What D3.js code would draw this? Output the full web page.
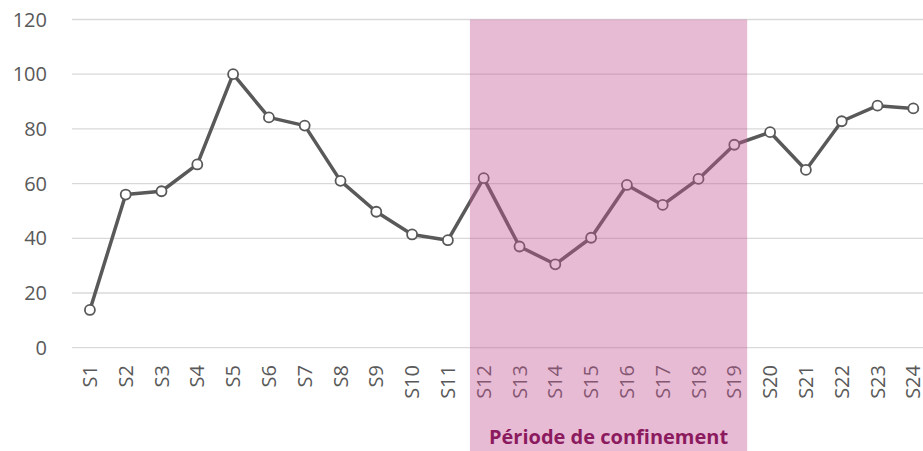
<!DOCTYPE html>
<meta charset="utf-8">
<script src="https://d3js.org/d3.v7.min.js"></script>
<style>
  body { margin: 0; background: #fff; }
  text { font-family: "Open Sans", "Segoe UI", sans-serif; }
</style>
<body>
<div id="graph"></div>
<script>
  // data
  var weeks = ["S1", "S2", "S3", "S4", "S5", "S6", "S7", "S8", "S9", "S10", "S11", "S12",
    "S13", "S14", "S15", "S16", "S17", "S18", "S19", "S20", "S21", "S22", "S23", "S24"];
  var values = [13.8, 56, 57.2, 67, 100, 84.2, 81.2, 61, 49.7, 41.4, 39.3, 62,
    37, 30.5, 40.2, 59.5, 52.2, 61.7, 74.2, 78.8, 65, 82.8, 88.5, 87.5];
  var yTicks = [0, 20, 40, 60, 80, 100, 120];
  var confinement = ["S12", "S19"];
  var confinementLabel = "Période de confinement";

  var width = 923, height = 451;

  var svg = d3.select("#graph")
    .append("svg")
    .attr("width", width)
    .attr("height", height);

  var x = d3.scaleBand().domain(weeks).range([72, 72 + 35.8 * 24]);
  var y = d3.scaleLinear().domain([0, 120]).range([347.7, 19.5]);

  // gridlines
  svg.append("g")
    .selectAll("line")
    .data(yTicks)
    .enter().append("line")
    .attr("x1", 72)
    .attr("x2", width)
    .attr("y1", function (d) { return y(d); })
    .attr("y2", function (d) { return y(d); })
    .attr("stroke", "#d9d9d9")
    .attr("stroke-width", 1.3);

  // y axis labels
  svg.append("g")
    .selectAll("text")
    .data(yTicks)
    .enter().append("text")
    .attr("x", 47)
    .attr("y", function (d) { return y(d); })
    .attr("dy", "0.35em")
    .attr("text-anchor", "end")
    .attr("fill", "#595959")
    .style("font-size", "20px")
    .text(function (d) { return d; });

  // x axis labels, rotated (S24 runs off the right edge like the original)
  svg.append("g")
    .selectAll("text")
    .data(weeks)
    .enter().append("text")
    .attr("transform", function (d) {
      return "translate(" + (x(d) + x.bandwidth() / 2) + ",365) rotate(-90)";
    })
    .attr("dy", "0.35em")
    .attr("text-anchor", "end")
    .attr("fill", "#595959")
    .style("font-size", "20px")
    .text(function (d) { return d; });

  var cx = function (d, i) { return x(weeks[i]) + x.bandwidth() / 2; };

  // the line
  svg.append("path")
    .datum(values)
    .attr("fill", "none")
    .attr("stroke", "#595959")
    .attr("stroke-width", 3.5)
    .attr("stroke-linejoin", "round")
    .attr("d", d3.line()
      .x(cx)
      .y(function (d) { return y(d); }));

  svg.append("g")
    .selectAll("circle")
    .data(values)
    .enter().append("circle")
    .attr("cx", cx)
    .attr("cy", function (d) { return y(d); })
    .attr("r", 5)
    .attr("fill", "#fff")
    .attr("stroke", "#595959")
    .attr("stroke-width", 1.8);

  // confinement shading on top
  var step = x.step();
  var x0 = x(confinement[0]) + x.bandwidth() / 2 - 0.385 * step;
  var x1 = x(confinement[1]) + x.bandwidth() / 2 + 0.36 * step;
  svg.append("rect")
    .attr("x", x0)
    .attr("y", y(120))
    .attr("width", x1 - x0)
    .attr("height", height - y(120))
    .attr("fill", "rgb(198,85,150)")
    .attr("fill-opacity", 0.4);

  svg.append("text")
    .attr("x", (x0 + x1) / 2)
    .attr("y", 444)
    .attr("text-anchor", "middle")
    .attr("fill", "#8b1a5e")
    .style("font-size", "20px")
    .style("font-weight", "bold")
    .text(confinementLabel);
</script>
</body>
